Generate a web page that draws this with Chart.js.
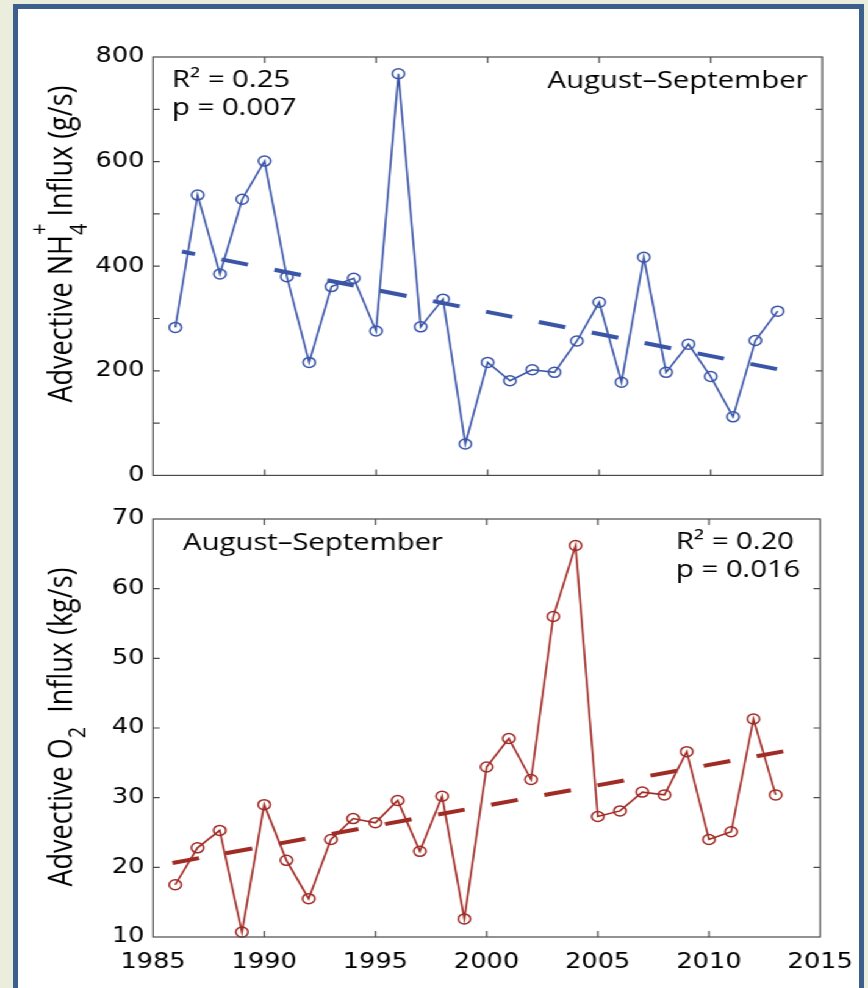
<!DOCTYPE html>
<html>
<head>
<meta charset="utf-8">
<script src="https://cdn.jsdelivr.net/npm/chart.js@4.4.1/dist/chart.umd.min.js"></script>
<style>
  html, body { margin: 0; padding: 0; }
  body { width: 868px; height: 988px; overflow: hidden; background: #ebeedc; position: relative; }
  #frame { position: absolute; left: 13px; top: 4px; width: 841px; height: 1000px; border: 5px solid #3d5f8e; background: #fff; }
  /* figure is laid out narrow, then widened to the printed proportions */
  #stretch { position: absolute; left: 0; top: 0; width: 712px; height: 988px; transform: scaleX(1.22); transform-origin: 0 0; }
  .panel { position: absolute; left: 0; width: 712px; }
  #topPanel { top: 0; height: 495px; }
  #bottomPanel { top: 495px; height: 493px; }
</style>
</head>
<body>
<div id="frame"></div>
<div id="stretch">
  <div class="panel" id="topPanel"><canvas id="nh4Chart"></canvas></div>
  <div class="panel" id="bottomPanel"><canvas id="o2Chart"></canvas></div>
</div>
<script>
const years = [1986, 1987, 1988, 1989, 1990, 1991, 1992, 1993, 1994, 1995, 1996, 1997, 1998, 1999,
               2000, 2001, 2002, 2003, 2004, 2005, 2006, 2007, 2008, 2009, 2010, 2011, 2012, 2013];

// advective NH4+ influx, g/s
const nh4Influx = [283, 536, 385, 528, 601, 380, 216, 361, 377, 276, 768, 284, 337, 60,
                   216, 181, 202, 197, 257, 331, 178, 417, 197, 251, 189, 112, 258, 314];
// advective O2 influx, kg/s
const o2Influx = [17.5, 22.8, 25.3, 10.7, 29.0, 21.0, 15.5, 24.0, 27.0, 26.4, 29.6, 22.3, 30.2, 12.6,
                  34.4, 38.5, 32.6, 56.0, 66.2, 27.3, 28.1, 30.8, 30.4, 36.6, 24.0, 25.1, 41.3, 30.4];

// linear fits (end points)
const nh4TrendX = [1986.3, 2013];
const nh4TrendY = [428, 203];
const o2TrendX = [1985.5, 2013.6];
const o2TrendY = [20.4, 36.8];

const yearTicks = [1985, 2015, 5];
const nh4Ticks = [0, 800, 100];
const o2Ticks = [10, 70, 10];

const fontFamily = '"Open Sans", "DejaVu Sans", sans-serif';
const tickFamily = '"DejaVu Sans", sans-serif';
const textColor = '#000';

function toPoints(xs, ys) {
  return xs.map((x, i) => ({ x: x, y: ys[i] }));
}

// rotated y-axis title with sub/superscripts
function drawAxisTitle(ctx, x, cy, parts) {
  ctx.save();
  ctx.translate(x, cy);
  ctx.rotate(-Math.PI / 2);
  ctx.fillStyle = textColor;
  ctx.textBaseline = 'alphabetic';
  ctx.textAlign = 'left';
  let total = 0;
  parts.forEach(p => {
    ctx.font = p.size + 'px ' + fontFamily;
    p.w = ctx.measureText(p.text).width;
    if (!p.stack) total += p.w;
  });
  let pos = -total / 2;
  parts.forEach(p => {
    ctx.font = p.size + 'px ' + fontFamily;
    ctx.fillText(p.text, pos, p.dy || 0);
    if (!p.stack) pos += p.w;
  });
  ctx.restore();
}

function framePlugin(cfg) {
  return {
    id: 'frame',
    afterDraw(chart) {
      const ctx = chart.ctx;
      const a = chart.chartArea;
      const xs = chart.scales.x;
      const ys = chart.scales.y;
      ctx.save();
      ctx.strokeStyle = '#4a4a4a';
      ctx.lineWidth = 1.2;
      ctx.strokeRect(a.left, a.top, a.right - a.left, a.bottom - a.top);
      ctx.beginPath();
      xs.ticks.forEach(t => {
        if (t.value <= xs.min || t.value >= xs.max) return;
        const px = xs.getPixelForValue(t.value);
        ctx.moveTo(px, a.bottom); ctx.lineTo(px, a.bottom - 6);
        ctx.moveTo(px, a.top); ctx.lineTo(px, a.top + 6);
      });
      ys.ticks.forEach(t => {
        if (t.value <= ys.min || t.value >= ys.max) return;
        const py = ys.getPixelForValue(t.value);
        ctx.moveTo(a.left, py); ctx.lineTo(a.left + 5.5, py);
        ctx.moveTo(a.right, py); ctx.lineTo(a.right - 5.5, py);
      });
      ctx.stroke();

      ctx.fillStyle = textColor;
      ctx.font = '24px ' + fontFamily;
      ctx.textBaseline = 'alphabetic';
      cfg.notes.forEach(n => {
        ctx.textAlign = n.align;
        ctx.fillText(n.text, n.x, n.y);
      });
      ctx.restore();

      drawAxisTitle(ctx, 59, cfg.titleY, cfg.title);
    }
  };
}

function createPanel(id, cfg) {
  return new Chart(document.getElementById(id), {
    type: 'line',
    data: {
      datasets: [
        {
          data: toPoints(years, cfg.values),
          borderColor: cfg.color,
          borderWidth: 1.6,
          pointRadius: 5,
          pointBorderWidth: 1.5,
          pointBorderColor: cfg.color,
          pointBackgroundColor: 'rgba(0,0,0,0)',
          tension: 0,
          clip: false,
          order: 1
        },
        {
          data: toPoints(cfg.trendX, cfg.trendY),
          borderColor: cfg.color,
          borderWidth: 4,
          borderDash: [22.3, 22.3],
          borderDashOffset: cfg.dashOffset,
          pointRadius: 0,
          clip: false,
          order: 0
        }
      ]
    },
    options: {
      responsive: true,
      maintainAspectRatio: false,
      animation: false,
      layout: { padding: { top: cfg.padTop, right: 38, bottom: 0, left: 0 } },
      scales: {
        x: {
          type: 'linear',
          min: yearTicks[0],
          max: yearTicks[1],
          grid: { display: false, drawTicks: false },
          border: { display: false },
          ticks: {
            stepSize: yearTicks[2],
            display: cfg.showYears,
            padding: 13,
            autoSkip: false,
            maxRotation: 0,
            color: textColor,
            font: { family: tickFamily, size: 21 },
            callback: v => String(v)
          },
          afterFit: s => { s.height = cfg.xAxisHeight; }
        },
        y: {
          min: cfg.ticks[0],
          max: cfg.ticks[1],
          grid: { display: false, drawTicks: false },
          border: { display: false },
          ticks: {
            stepSize: cfg.ticks[2],
            padding: 7,
            color: textColor,
            font: { family: tickFamily, size: 21 },
            callback: v => (v % cfg.labelStep === 0 ? String(v) : '')
          },
          afterFit: s => { s.width = 125.4; }
        }
      },
      plugins: { legend: { display: false }, tooltip: { enabled: false } }
    },
    plugins: [framePlugin(cfg)]
  });
}

createPanel('nh4Chart', {
  values: nh4Influx,
  trendX: nh4TrendX,
  trendY: nh4TrendY,
  dashOffset: 11.3,
  ticks: nh4Ticks,
  labelStep: 200,
  color: '#3a55a8',
  padTop: 57,
  xAxisHeight: 18,
  showYears: false,
  notes: [
    { text: 'R\u00b2 = 0.25', x: 141, y: 87, align: 'left' },
    { text: 'p = 0.007', x: 141, y: 115, align: 'left' },
    { text: 'August\u2013September', x: 662, y: 88, align: 'right' }
  ],
  titleY: 244,
  title: [
    { text: 'Advective NH', size: 27 },
    { text: '+', size: 20, dy: -20, stack: true },
    { text: '4', size: 20, dy: 12 },
    { text: ' Influx (g/s)', size: 27 }
  ]
});

createPanel('o2Chart', {
  values: o2Influx,
  trendX: o2TrendX,
  trendY: o2TrendY,
  dashOffset: 37.5,
  ticks: o2Ticks,
  labelStep: 10,
  color: '#a02a24',
  padTop: 24,
  xAxisHeight: 51,
  showYears: true,
  notes: [
    { text: 'August\u2013September', x: 150, y: 55, align: 'left' },
    { text: 'R\u00b2 = 0.20', x: 554, y: 54, align: 'left' },
    { text: 'p = 0.016', x: 554, y: 82, align: 'left' }
  ],
  titleY: 232,
  title: [
    { text: 'Advective O', size: 27 },
    { text: '2', size: 20, dy: 11 },
    { text: '  Influx (kg/s)', size: 27 }
  ]
});
</script>
</body>
</html>
